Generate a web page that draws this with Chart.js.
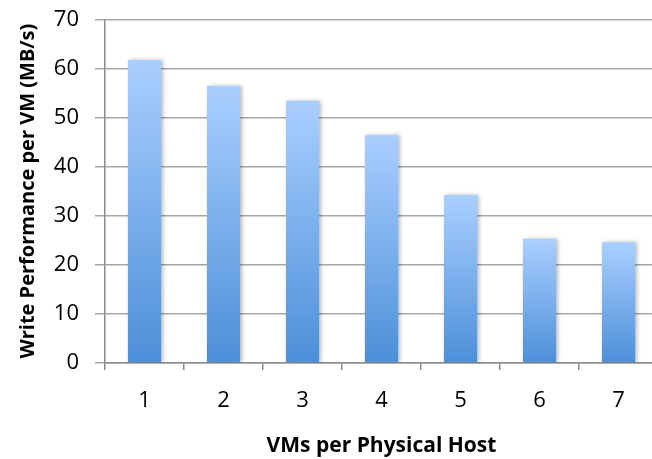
<!DOCTYPE html>
<html>
<head>
<meta charset="utf-8">
<script src="https://cdn.jsdelivr.net/npm/chart.js@4.4.1/dist/chart.umd.min.js"></script>
<style>
  html, body { margin: 0; padding: 0; background: #fff; overflow: hidden; }
  #wrap { width: 660px; height: 459px; }
</style>
</head>
<body>
<div id="wrap"><canvas id="myChart"></canvas></div>
<script>
// VMs per host vs write throughput per VM
const hosts = ["1", "2", "3", "4", "5", "6", "7"];
const writePerf = [61.7, 56.4, 53.4, 46.4, 34.2, 25.3, 24.6];
const yTicks = [0, 10, 20, 30, 40, 50, 60, 70];

// light top -> darker bottom, per bar
function barGradient(context) {
  const chart = context.chart;
  const y = chart.scales.y;
  if (!chart.chartArea || !y || context.raw == null) return "#7fb0ea";
  const top = y.getPixelForValue(context.raw);
  const base = y.getPixelForValue(0);
  const g = chart.ctx.createLinearGradient(0, top, 0, base);
  g.addColorStop(0, "#aacfff");
  g.addColorStop(1, "#4c8fd8");
  return g;
}

const barShadow = {
  id: "barShadow",
  beforeDatasetsDraw(chart) {
    const ctx = chart.ctx;
    ctx.save();
    ctx.shadowColor = "rgba(0,0,0,0.28)";
    ctx.shadowBlur = 4;
    ctx.shadowOffsetX = 2;
    ctx.shadowOffsetY = 0;
  },
  afterDatasetsDraw(chart) {
    chart.ctx.restore();
  },
};

const fontFam = "'Open Sans', 'Liberation Sans', sans-serif";

let config = {
  type: "bar",
  data: {
    labels: hosts,
    datasets: [
      {
        label: "Write Performance",
        data: writePerf,
        backgroundColor: barGradient,
        borderWidth: 0,
        barPercentage: 0.42,
        categoryPercentage: 1,
      },
    ],
  },
  options: {
    responsive: true,
    maintainAspectRatio: false,
    animation: false,
    layout: { padding: { top: 19, right: 2, bottom: 0, left: 0 } },
    plugins: {
      legend: { display: false },
      tooltip: { enabled: false },
    },
    scales: {
      x: {
        grid: {
          offset: true,
          drawOnChartArea: false,
          drawTicks: true,
          tickLength: 7,
          color: "#8c8c8c",
          lineWidth: 1.5,
        },
        border: { color: "#8c8c8c", width: 1.5 },
        ticks: {
          color: "#000",
          padding: 18,
          font: { family: fontFam, size: 22 },
        },
        title: {
          display: true,
          text: "VMs per Physical Host",
          color: "#000",
          font: { family: fontFam, size: 21, weight: "bold", lineHeight: 1.2 },
          padding: { top: 8, bottom: 0 },
        },
        afterFit: (s) => { s.height = 96; },
      },
      y: {
        min: 0,
        max: 70,
        afterBuildTicks: (s) => { s.ticks = yTicks.map((v) => ({ value: v })); },
        grid: {
          color: "#a6a6a6",
          lineWidth: 1.5,
          tickLength: 10,
        },
        border: { color: "#8c8c8c", width: 1.5 },
        ticks: {
          color: "#000",
          padding: 16,
          font: { family: fontFam, size: 22, lineHeight: 0.3 },
        },
        title: {
          display: true,
          text: "Write Performance per VM (MB/s)",
          color: "#000",
          font: { family: fontFam, size: 20, weight: "bold", lineHeight: 1.2 },
          padding: { top: 16, bottom: 0 },
        },
        afterFit: (s) => { s.width = 105; },
      },
    },
  },
  plugins: [barShadow],
};

const mChart = new Chart(document.getElementById("myChart"), config);
</script>
</body>
</html>
